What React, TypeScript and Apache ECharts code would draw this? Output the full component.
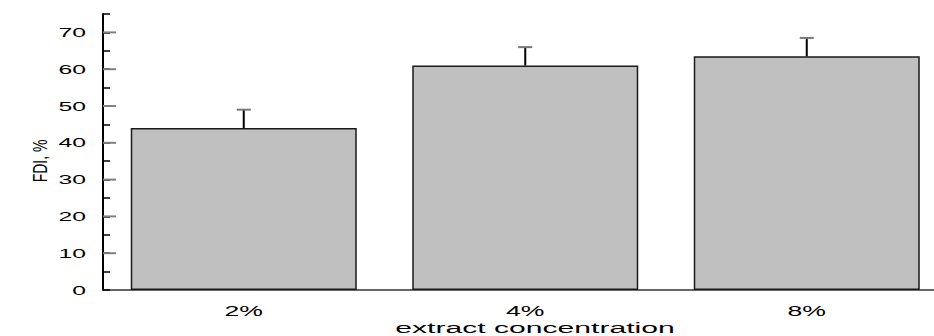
import React, { useEffect, useRef } from "react";
import * as echarts from "echarts";

const categories = ["2%", "4%", "8%"];
const fdiValues = [44, 61, 63.5];
const fdiErrors = [5, 5, 5];
const yTickValues = [0, 10, 20, 30, 40, 50, 60, 70];
const yAxisTitle = "FDI, %";
const xAxisTitle = "extract concentration";

const FONT = "'Liberation Sans', Arial, sans-serif";

export default function App() {
  const ref = useRef<HTMLDivElement>(null);
  useEffect(() => {
    const chart = echarts.init(ref.current!, null, { renderer: "svg" });
    chart.setOption({
      animation: false,
      grid: { left: 103, top: 14, right: 0, height: 276 },
      xAxis: {
        type: "value",
        min: -0.5,
        max: 2.452,
        axisLine: { show: true, onZero: false, lineStyle: { color: "#333", width: 1.5 } },
        axisTick: { show: false },
        axisLabel: { show: false },
        splitLine: { show: false },
      },
      yAxis: {
        type: "value",
        min: 0,
        max: 75,
        interval: 5,
        axisLine: { show: true, onZero: false, lineStyle: { color: "#000", width: 2 } },
        axisTick: { show: true, inside: true, length: 7, lineStyle: { color: "#000", width: 1.5 } },
        axisLabel: { show: false },
        splitLine: { show: false },
      },
      series: [
        {
          type: "bar",
          data: fdiValues.map((v, i) => [i, v]),
          barWidth: 226,
          itemStyle: { color: "#c0c0c0", borderColor: "#1a1a1a", borderWidth: 1.5 },
          z: 2,
        },
        {
          type: "custom",
          data: fdiValues.map((v, i) => [i, v, fdiErrors[i]]),
          encode: { x: 0, y: 1 },
          z: 3,
          renderItem: (params: any, api: any) => {
            const i = api.value(0);
            const m = api.value(1);
            const e = api.value(2);
            const base = api.coord([i, m]);
            const top = api.coord([i, m + e]);
            return {
              type: "group",
              children: [
                {
                  type: "line",
                  shape: { x1: base[0], y1: base[1], x2: top[0], y2: top[1] },
                  style: { stroke: "#000", lineWidth: 2 },
                },
                {
                  type: "line",
                  shape: { x1: top[0] - 7, y1: top[1], x2: top[0] + 7, y2: top[1] },
                  style: { stroke: "#777", lineWidth: 2 },
                },
              ],
            };
          },
        },
      ],
    });

    const origin = chart.convertToPixel({ gridIndex: 0 }, [-0.5, 0]) as number[];
    const axisX = origin[0];
    const axisY = origin[1];
    const gfx: any[] = [];
    yTickValues.forEach((v) => {
      const y = chart.convertToPixel({ yAxisIndex: 0 }, v) as number;
      if (v !== 0) {
        gfx.push({
          type: "line",
          shape: { x1: axisX, y1: y, x2: axisX + 13, y2: y },
          style: { stroke: "#808080", lineWidth: 2 },
          z: 5,
        });
      }
      gfx.push({
        type: "text",
        x: axisX - 17,
        y: y,
        scaleX: 1.9,
        style: {
          text: String(v),
          align: "right",
          textAlign: "right",
          verticalAlign: "middle",
          textVerticalAlign: "middle",
          fontSize: 13,
          fontFamily: FONT,
          fill: "#000",
        },
      });
    });
    categories.forEach((cat, i) => {
      const p = chart.convertToPixel({ gridIndex: 0 }, [i, 0]) as number[];
      gfx.push({
        type: "text",
        x: p[0],
        y: axisY + 21,
        scaleX: 1.9,
        style: {
          text: cat,
          align: "center",
          textAlign: "center",
          verticalAlign: "middle",
          textVerticalAlign: "middle",
          fontSize: 14,
          fontFamily: FONT,
          fill: "#000",
        },
      });
    });
    gfx.push({
      type: "text",
      x: 535,
      y: axisY + 38,
      scaleX: 2.15,
      style: {
        text: xAxisTitle,
        align: "center",
        textAlign: "center",
        verticalAlign: "middle",
        textVerticalAlign: "middle",
        fontSize: 14,
        fontFamily: FONT,
        fill: "#000",
      },
    });
    gfx.push({
      type: "group",
      x: 41,
      y: 161,
      scaleX: 1.4,
      children: [
        {
          type: "text",
          x: 0,
          y: 0,
          rotation: Math.PI / 2,
          style: {
            text: yAxisTitle,
            align: "center",
            textAlign: "center",
            verticalAlign: "middle",
            textVerticalAlign: "middle",
            fontSize: 14,
            fontFamily: FONT,
            fill: "#000",
          },
        },
      ],
    });
    chart.setOption({ graphic: gfx });

    return () => chart.dispose();
  }, []);

  return (
    <div
      ref={ref}
      style={{ position: "fixed", left: 0, top: 0, width: 934, height: 336, background: "#fff" }}
    />
  );
}
